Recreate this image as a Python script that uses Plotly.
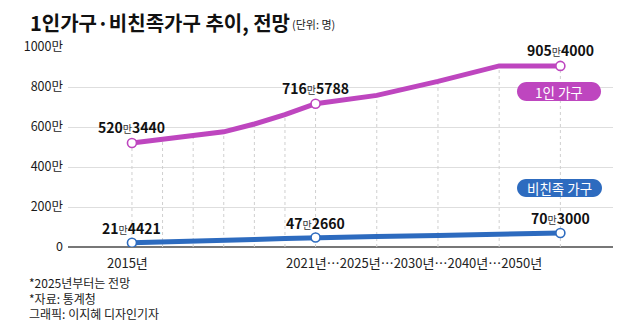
import plotly.graph_objects as go

# ---------------- data ----------------
years = ["2015", "2016", "2017", "2018", "2019", "2020", "2021", "2025", "2030", "2040", "2050"]
x_index = [0, 1, 2, 3, 4, 5, 6, 8, 10, 12, 14]          # axis slots (2021 onward are spaced wider)
single_hh = [520.344, 537, 556, 576, 615, 662, 716.5788, 758, 828, 905.5, 905.4]   # 만 명
nonfamily_hh = [21.4421, 24, 28, 32, 37, 42, 47.266, 53, 58, 65, 70.3]             # 만 명
labeled_idx = [0, 6, 10]
single_labels = [5203440, 7165788, 9054000]
nonfamily_labels = [214421, 472660, 703000]
y_ticks = [0, 200, 400, 600, 800, 1000]
y_ticktext = ["0", "200만", "400만", "600만", "800만", "1000만"]
x_label_first = "2015년"
x_label_rest = "2021년⋯2025년⋯2030년⋯2040년⋯2050년"
title = "1인가구·비친족가구 추이, 전망"
unit = "(단위: 명)"
notes = ["*2025년부터는 전망", "*자료: 통계청", "그래픽: 이지혜 디자인기자"]
legend_names = ["1인 가구", "비친족 가구"]

MAG = "#BE46BF"
BLUE = "#2D6BBF"
FONT = "Noto Sans CJK KR"

W, H = 640, 329
L, R, T, B = 68, 27, 47, 82
PW, PH = W - L - R, H - T - B


def px2paper(px, py):
    return (px - L) / PW, (T + PH - py) / PH


fig = go.Figure()

# vertical dotted guides from the 1인가구 line down to the baseline
gx, gy = [], []
for xi, yi in zip(x_index, single_hh):
    gx += [xi, xi, None]
    gy += [0, yi, None]
fig.add_trace(go.Scatter(x=gx, y=gy, mode="lines", hoverinfo="skip",
                         line=dict(color="#cfcfcf", width=1, dash="dot"), showlegend=False))

for vals, col in [(single_hh, MAG), (nonfamily_hh, BLUE)]:
    fig.add_trace(go.Scatter(x=x_index, y=vals, mode="lines",
                             line=dict(color=col, width=5), showlegend=False))
    fig.add_trace(go.Scatter(x=[x_index[i] for i in labeled_idx], y=[vals[i] for i in labeled_idx],
                             mode="markers", showlegend=False,
                             marker=dict(size=9, color="white", line=dict(color=col, width=1.6))))


def fmt(v):
    man, rest = divmod(v, 10000)
    return (f"<b>{man}</b><span style='font-size:10px;color:#333'>만</span><b>{rest:04d}</b>")


anns = []
for i, v in zip(labeled_idx, single_labels):
    anns.append(dict(x=x_index[i], y=v / 10000, yshift=16, text=fmt(v), showarrow=False,
                     font=dict(size=14, color="#111", family=FONT), xanchor="center", yanchor="middle"))
for i, v in zip(labeled_idx, nonfamily_labels):
    anns.append(dict(x=x_index[i], y=v / 10000, yshift=15, text=fmt(v), showarrow=False,
                     font=dict(size=14, color="#111", family=FONT), xanchor="center", yanchor="middle"))

# x labels
anns.append(dict(x=x_index[0], y=0, yref="y", yshift=-15, xshift=-4, text=x_label_first, showarrow=False,
                 font=dict(size=13, color="#222", family=FONT), xanchor="center", yanchor="middle"))
anns.append(dict(x=(x_index[6] + x_index[-1]) / 2, y=0, yref="y", yshift=-15, xshift=-24,
                 text=x_label_rest, showarrow=False,
                 font=dict(size=13, color="#222", family=FONT), xanchor="center", yanchor="middle"))

# title + unit
tx, ty = px2paper(28, 22)
anns.append(dict(x=tx, y=ty, xref="paper", yref="paper", text=f"<b>{title}</b>",
                 showarrow=False, xanchor="left", yanchor="middle",
                 font=dict(size=20, color="#111", family=FONT)))
ux, uy = px2paper(290, 24)
anns.append(dict(x=ux, y=uy, xref="paper", yref="paper", text=unit,
                 showarrow=False, xanchor="left", yanchor="middle",
                 font=dict(size=11, color="#222", family=FONT)))
nx, ny = px2paper(27, 297.5)
anns.append(dict(x=nx, y=ny, xref="paper", yref="paper", text="<br>".join(notes),
                 showarrow=False, xanchor="left", yanchor="middle", align="left",
                 font=dict(size=12, color="#1a1a1a", family=FONT)))


def pill(x0, y0, x1, y1):
    r = (y1 - y0) / 2
    k = 0.5523 * r

    def P(px, py):
        a, b = px2paper(px, py)
        return f"{a:.5f},{b:.5f}"
    ym = (y0 + y1) / 2
    d = f"M{P(x0 + r, y0)} L{P(x1 - r, y0)} "
    d += f"C{P(x1 - r + k, y0)} {P(x1, ym - k)} {P(x1, ym)} "
    d += f"C{P(x1, ym + k)} {P(x1 - r + k, y1)} {P(x1 - r, y1)} "
    d += f"L{P(x0 + r, y1)} "
    d += f"C{P(x0 + r - k, y1)} {P(x0, ym + k)} {P(x0, ym)} "
    d += f"C{P(x0, ym - k)} {P(x0 + r - k, y0)} {P(x0 + r, y0)} Z"
    return d


shapes = []
for (x0, y0, x1, y1), col, name in [((517, 82, 601, 101), MAG, legend_names[0]),
                                    ((517, 179, 602, 197), BLUE, legend_names[1])]:
    shapes.append(dict(type="path", xref="paper", yref="paper", path=pill(x0, y0, x1, y1),
                       fillcolor=col, line=dict(width=0), layer="above"))
    cx, cy = px2paper((x0 + x1) / 2, (y0 + y1) / 2)
    anns.append(dict(x=cx, y=cy, xref="paper", yref="paper", text=name, showarrow=False,
                     xanchor="center", yanchor="middle",
                     font=dict(size=13.5, color="white", family=FONT)))

fig.update_layout(
    width=W, height=H, margin=dict(l=L, r=R, t=T, b=B),
    paper_bgcolor="white", plot_bgcolor="white",
    showlegend=False, annotations=anns, shapes=shapes,
    xaxis=dict(range=[-2.09, 15.72], showgrid=False, zeroline=False, showticklabels=False,
               fixedrange=True),
    yaxis=dict(range=[0, 1000], tickvals=y_ticks, ticktext=y_ticktext, showgrid=True,
               gridcolor="#dedede", gridwidth=1, zeroline=True, zerolinecolor="#777",
               zerolinewidth=1.5, tickfont=dict(size=12.5, color="#1a1a1a", family=FONT),
               ticks="", ticklabelstandoff=4),
)

fig.write_html("out.html")
